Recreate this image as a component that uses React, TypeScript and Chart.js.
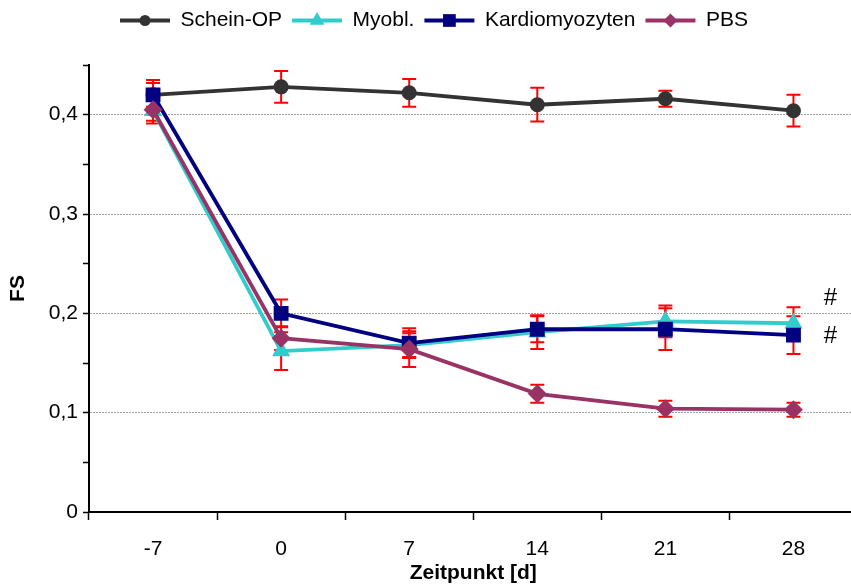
import React, { useEffect, useRef } from 'react';
import { Chart, registerables } from 'chart.js';

Chart.register(...registerables);

// ---- data ----
const categories = ['-7', '0', '7', '14', '21', '28'];
const seriesNames = ['Schein-OP', 'Myobl.', 'Kardiomyozyten', 'PBS'];
const scheinValues = [0.42, 0.428, 0.422, 0.41, 0.416, 0.404];
const scheinErrors = [0.015, 0.016, 0.014, 0.017, 0.008, 0.016];
const myoblValues = [0.404, 0.162, 0.168, 0.181, 0.192, 0.19];
const myoblErrors = [0.01, 0.019, 0.012, 0.017, 0.016, 0.016];
const kardioValues = [0.42, 0.2, 0.17, 0.184, 0.184, 0.178];
const kardioErrors = [0.012, 0.014, 0.015, 0.013, 0.021, 0.019];
const pbsValues = [0.405, 0.175, 0.164, 0.119, 0.104, 0.103];
const pbsErrors = [0.014, 0.012, 0.018, 0.009, 0.008, 0.007];
const hashLabels = ['#', '#'];
const hashValues = [0.215, 0.177];
const yMin = 0;
const yMax = 0.45;
const yStep = 0.05;

const FONT = '"Liberation Sans", Arial, Helvetica, sans-serif';

const styles = [
  { color: '#333333', pointStyle: 'circle', radius: 7.5, legendRadius: 5.5, order: 4 },
  { color: '#33CCCC', pointStyle: 'triangle', radius: 10.5, legendRadius: 8.5, order: 3 },
  { color: '#000080', pointStyle: 'rect', radius: 10.5, legendRadius: 9, order: 2 },
  { color: '#993366', pointStyle: 'rectRot', radius: 9.5, legendRadius: 7, order: 1 },
];

function drawMarker(ctx: CanvasRenderingContext2D, style: string, x: number, y: number, r: number, color: string) {
  ctx.save();
  ctx.fillStyle = color;
  ctx.beginPath();
  if (style === 'circle') {
    ctx.arc(x, y, r, 0, Math.PI * 2);
  } else if (style === 'rect') {
    const s = r * Math.SQRT1_2;
    ctx.rect(x - s, y - s, 2 * s, 2 * s);
  } else if (style === 'triangle') {
    let a = 0;
    ctx.moveTo(x + Math.sin(a) * r, y - Math.cos(a) * r);
    a += (2 * Math.PI) / 3;
    ctx.lineTo(x + Math.sin(a) * r, y - Math.cos(a) * r);
    a += (2 * Math.PI) / 3;
    ctx.lineTo(x + Math.sin(a) * r, y - Math.cos(a) * r);
  } else {
    ctx.moveTo(x, y - r);
    ctx.lineTo(x + r, y);
    ctx.lineTo(x, y + r);
    ctx.lineTo(x - r, y);
  }
  ctx.closePath();
  ctx.fill();
  ctx.restore();
}

const errorBarPlugin = {
  id: 'errorBars',
  beforeDatasetsDraw(chart: any) {
    const ctx = chart.ctx;
    const yScale = chart.scales.y;
    ctx.save();
    ctx.strokeStyle = '#FF0000';
    ctx.lineWidth = 2;
    chart.data.datasets.forEach((ds: any, di: number) => {
      const meta = chart.getDatasetMeta(di);
      meta.data.forEach((pt: any, i: number) => {
        const v = ds.data[i];
        const e = ds.errors[i];
        const x = pt.x;
        const yt = yScale.getPixelForValue(v + e);
        const yb = yScale.getPixelForValue(v - e);
        ctx.beginPath();
        ctx.moveTo(x, yt);
        ctx.lineTo(x, yb);
        ctx.moveTo(x - 7, yt);
        ctx.lineTo(x + 7, yt);
        ctx.moveTo(x - 7, yb);
        ctx.lineTo(x + 7, yb);
        ctx.stroke();
      });
    });
    ctx.restore();
  },
};

const annotationPlugin = {
  id: 'hashMarks',
  afterDatasetsDraw(chart: any) {
    const ctx = chart.ctx;
    const yScale = chart.scales.y;
    const meta = chart.getDatasetMeta(0);
    const last = meta.data[meta.data.length - 1];
    ctx.save();
    ctx.fillStyle = '#000';
    ctx.font = `24px ${FONT}`;
    ctx.textAlign = 'center';
    ctx.textBaseline = 'middle';
    hashValues.forEach((v, i) => {
      ctx.fillText(hashLabels[i], last.x + 37, yScale.getPixelForValue(v));
    });
    ctx.restore();
  },
};

const legendPlugin = {
  id: 'legendMarkers',
  beforeLayout(chart: any) {
    const lg = chart.legend;
    if (lg && !lg._patched) {
      const orig = lg.fit.bind(lg);
      lg.fit = function () {
        orig();
        this.height = 65;
      };
      lg._patched = true;
    }
  },
  afterDraw(chart: any) {
    const lg = chart.legend;
    if (!lg || !lg.legendHitBoxes) return;
    const ctx = chart.ctx;
    const bw = lg.options.labels.boxWidth;
    lg.legendHitBoxes.forEach((hb: any, i: number) => {
      const st = styles[i];
      drawMarker(ctx, st.pointStyle, hb.left + bw / 2, hb.top + hb.height / 2, st.legendRadius, st.color);
    });
  },
};

const valueSets = [scheinValues, myoblValues, kardioValues, pbsValues];
const errorSets = [scheinErrors, myoblErrors, kardioErrors, pbsErrors];

const CANVAS_W = 868;

export default function App() {
  const ref = useRef<HTMLCanvasElement | null>(null);

  useEffect(() => {
    if (!ref.current) return;
    const datasets = seriesNames.map((name, i) => ({
      label: name,
      data: valueSets[i],
      errors: errorSets[i],
      borderColor: styles[i].color,
      backgroundColor: styles[i].color,
      borderWidth: 3.8,
      pointStyle: styles[i].pointStyle,
      pointRadius: styles[i].radius,
      pointBackgroundColor: styles[i].color,
      pointBorderColor: styles[i].color,
      pointBorderWidth: 0,
      tension: 0,
      order: styles[i].order,
    }));

    const chart = new Chart(ref.current, {
      type: 'line',
      data: { labels: categories, datasets: datasets as any },
      plugins: [errorBarPlugin, annotationPlugin, legendPlugin],
      options: {
        animation: false,
        responsive: false,
        devicePixelRatio: 1,
        events: [],
        layout: { padding: 0 },
        plugins: {
          tooltip: { enabled: false },
          legend: {
            display: true,
            position: 'top',
            labels: {
              boxWidth: 50,
              boxHeight: 4,
              padding: 10,
              color: '#000',
              font: { family: FONT, size: 21 },
              generateLabels: (c: any) =>
                c.data.datasets.map((ds: any, i: number) => ({
                  text: ds.label,
                  fillStyle: ds.borderColor,
                  strokeStyle: ds.borderColor,
                  lineWidth: 0,
                  hidden: false,
                  datasetIndex: i,
                  fontColor: '#000',
                })),
            },
          },
        },
        scales: {
          x: {
            type: 'category',
            offset: true,
            afterFit: (s: any) => {
              s.height = 74;
            },
            grid: {
              offset: true,
              drawOnChartArea: false,
              drawTicks: true,
              tickLength: 8,
              tickColor: '#000',
              tickWidth: 1.5,
            },
            border: { display: true, color: '#000', width: 2 },
            ticks: {
              color: '#000',
              padding: 17,
              font: { family: FONT, size: 21 },
              maxRotation: 0,
              autoSkip: false,
            },
            title: {
              display: true,
              text: 'Zeitpunkt [d]',
              color: '#000',
              font: { family: FONT, size: 21, weight: 'bold' },
              padding: { top: 0, bottom: 0 },
            },
          },
          y: {
            type: 'linear',
            min: yMin,
            max: yMax,
            afterFit: (s: any) => {
              s.width = 89;
            },
            grid: {
              drawOnChartArea: true,
              drawTicks: true,
              tickLength: 6,
              tickColor: '#000',
              tickWidth: 1.5,
              lineWidth: 1,
              color: (c: any) => {
                const k = Math.round((c.tick?.value ?? 0) * 100);
                return k !== 0 && k % 10 === 0 ? '#a0a0a0' : 'rgba(0,0,0,0)';
              },
            },
            border: { display: true, color: '#000', width: 2, dash: [2, 1] },
            ticks: {
              stepSize: yStep,
              autoSkip: false,
              color: '#000',
              padding: 5,
              font: { family: FONT, size: 21 },
              callback: (value: any) => {
                const k = Math.round(Number(value) * 100);
                if (k % 10 !== 0) return '';
                return k === 0 ? '0' : (k / 100).toFixed(1).replace('.', ',');
              },
            },
            title: {
              display: true,
              text: 'FS',
              color: '#000',
              font: { family: FONT, size: 21, weight: 'bold' },
              padding: { top: 6, bottom: 0 },
            },
          },
        },
      } as any,
    });
    return () => chart.destroy();
  }, []);

  return (
    <div
      style={{
        position: 'fixed',
        left: 0,
        top: 0,
        width: 851,
        height: 586,
        overflow: 'hidden',
        background: '#fff',
      }}
    >
      <canvas
        ref={ref}
        width={CANVAS_W}
        height={586}
        style={{ display: 'block', width: CANVAS_W, height: 586 }}
      />
    </div>
  );
}
